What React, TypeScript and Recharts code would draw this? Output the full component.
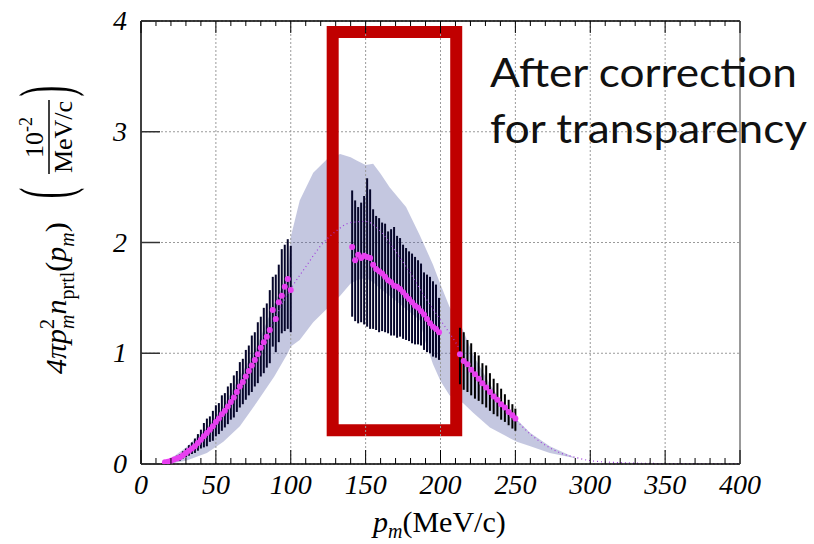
import {
  ComposedChart,
  Area,
  Line,
  Scatter,
  ErrorBar,
  XAxis,
  YAxis,
  CartesianGrid,
  ReferenceLine,
  ReferenceArea,
} from "recharts";

// momentum grid of the measured points (MeV/c)
const pmLow = [16, 18, 20, 22, 24, 26, 28, 30, 32, 34, 36, 38, 40, 42, 44, 46, 48, 50, 52, 54, 56, 58, 60, 62, 64, 66, 68, 70, 72, 74, 76, 78, 80, 82, 84, 86, 88, 90, 92, 94, 96, 98, 100];
const valLow = [0.015, 0.02, 0.03, 0.04, 0.05, 0.06, 0.08, 0.1, 0.12, 0.14, 0.16, 0.19, 0.22, 0.25, 0.28, 0.31, 0.34, 0.38, 0.41, 0.45, 0.48, 0.52, 0.56, 0.6, 0.65, 0.7, 0.74, 0.79, 0.84, 0.89, 0.94, 0.99, 1.05, 1.1, 1.15, 1.21, 1.39, 1.31, 1.46, 1.52, 1.6, 1.67, 1.57];
const errUpLow = [0.01, 0.012, 0.015, 0.02, 0.025, 0.03, 0.035, 0.04, 0.05, 0.055, 0.07, 0.08, 0.09, 0.12, 0.13, 0.12, 0.14, 0.15, 0.14, 0.17, 0.16, 0.18, 0.17, 0.2, 0.19, 0.22, 0.21, 0.24, 0.23, 0.27, 0.25, 0.29, 0.28, 0.31, 0.3, 0.36, 0.3, 0.4, 0.34, 0.42, 0.38, 0.36, 0.4];
const errDnLow = [0.01, 0.01, 0.015, 0.02, 0.02, 0.03, 0.03, 0.04, 0.045, 0.05, 0.06, 0.07, 0.08, 0.1, 0.12, 0.11, 0.13, 0.13, 0.14, 0.15, 0.15, 0.16, 0.16, 0.18, 0.18, 0.19, 0.2, 0.21, 0.22, 0.24, 0.24, 0.26, 0.26, 0.28, 0.28, 0.3, 0.33, 0.3, 0.36, 0.34, 0.4, 0.45, 0.38];

const pmMid = [141, 143, 145, 147, 149, 151, 153, 155, 157, 159, 161, 163, 165, 167, 169, 171, 173, 175, 177, 179, 181, 183, 185, 187, 189, 191, 193, 195, 197, 199];
const valMid = [1.96, 1.84, 1.89, 1.86, 1.88, 1.87, 1.86, 1.8, 1.76, 1.74, 1.72, 1.69, 1.66, 1.64, 1.61, 1.6, 1.58, 1.55, 1.52, 1.49, 1.46, 1.43, 1.41, 1.38, 1.35, 1.31, 1.27, 1.24, 1.22, 1.19];
const errUpMid = [0.51, 0.54, 0.43, 0.5, 0.54, 0.71, 0.62, 0.5, 0.48, 0.48, 0.46, 0.48, 0.44, 0.48, 0.53, 0.46, 0.46, 0.43, 0.43, 0.43, 0.44, 0.44, 0.43, 0.43, 0.38, 0.4, 0.42, 0.41, 0.4, 0.31];
const errDnMid = [0.63, 0.55, 0.62, 0.58, 0.62, 0.63, 0.64, 0.58, 0.55, 0.55, 0.52, 0.5, 0.48, 0.48, 0.45, 0.46, 0.43, 0.42, 0.4, 0.38, 0.37, 0.35, 0.33, 0.31, 0.32, 0.3, 0.27, 0.27, 0.26, 0.25];

const pmHigh = [213, 215.5, 218, 220.5, 223, 225.5, 228, 230.5, 233, 235.5, 238, 240.5, 243, 245.5, 248, 250];
const valHigh = [0.99, 0.93, 0.9, 0.85, 0.81, 0.77, 0.73, 0.69, 0.65, 0.61, 0.58, 0.54, 0.51, 0.47, 0.44, 0.41];
const errUpHigh = [0.24, 0.26, 0.22, 0.24, 0.2, 0.21, 0.18, 0.2, 0.17, 0.16, 0.15, 0.14, 0.12, 0.11, 0.1, 0.09];
const errDnHigh = [0.27, 0.26, 0.25, 0.23, 0.22, 0.2, 0.19, 0.18, 0.17, 0.16, 0.15, 0.14, 0.13, 0.12, 0.12, 0.11];

// systematic band
const bandPm = [15, 20, 30, 44, 55, 66, 77, 89, 98, 100, 106, 115, 124, 133, 140, 144, 150, 155, 160, 166, 177, 186, 190, 195, 200, 206, 215, 222, 233, 244, 251, 260, 273, 291, 307, 330, 360, 400];
const bandUp = [0.02, 0.05, 0.15, 0.33, 0.52, 0.79, 1.05, 1.45, 1.7, 2.05, 2.38, 2.63, 2.75, 2.8, 2.77, 2.74, 2.7, 2.71, 2.62, 2.5, 2.32, 2.07, 1.95, 1.8, 1.62, 1.42, 1.21, 0.98, 0.72, 0.5, 0.4, 0.28, 0.16, 0.05, 0.02, 0.008, 0.003, 0.001];
const bandDn = [0, 0.005, 0.03, 0.1, 0.2, 0.34, 0.55, 0.79, 1.0, 1.06, 1.12, 1.28, 1.4, 1.52, 1.63, 1.66, 1.68, 1.64, 1.58, 1.52, 1.4, 1.3, 1.1, 0.9, 0.75, 0.62, 0.55, 0.46, 0.33, 0.25, 0.2, 0.16, 0.1, 0.05, 0.02, 0.006, 0.002, 0];

// dotted reference curve
const curvePm = [15, 20, 30, 40, 50, 60, 70, 80, 90, 100, 110, 120, 130, 140, 150, 160, 170, 180, 190, 200, 210, 220, 230, 240, 250, 260, 270, 280, 290, 300, 320, 350, 400];
const curveVal = [0, 0.03, 0.1, 0.22, 0.37, 0.55, 0.78, 1.04, 1.33, 1.58, 1.78, 1.97, 2.1, 2.18, 2.19, 2.1, 1.92, 1.72, 1.5, 1.3, 1.1, 0.87, 0.68, 0.53, 0.4, 0.27, 0.17, 0.1, 0.06, 0.03, 0.012, 0.004, 0.001];

const xMinor = [0, 10, 20, 30, 40, 50, 60, 70, 80, 90, 100, 110, 120, 130, 140, 150, 160, 170, 180, 190, 200, 210, 220, 230, 240, 250, 260, 270, 280, 290, 300, 310, 320, 330, 340, 350, 360, 370, 380, 390, 400];
const xGrid = [50, 100, 150, 200, 250, 300, 350];
const yTicks = [0, 1, 2, 3, 4];

// highlighted window
const boxPm = [128, 210.5];
const boxVal = [0.305, 3.9];
const noteLines = ["After correction", "for transparency"];

const toPoints = (xs: number[], ys: number[], up: number[], dn: number[]) =>
  xs.map((x, i) => ({ x, y: ys[i], err: [dn[i], up[i]] }));

const lowData = toPoints(pmLow, valLow, errUpLow, errDnLow);
const midData = toPoints(pmMid, valMid, errUpMid, errDnMid);
const highData = toPoints(pmHigh, valHigh, errUpHigh, errDnHigh);
const pointData = [...lowData, ...midData, ...highData];
const bandData = bandPm.map((x, i) => ({ x, band: [bandDn[i], bandUp[i]] }));
const curveData = curvePm.map((x, i) => ({ x, c: curveVal[i] }));

const serif = '"Liberation Serif", "Times New Roman", serif';
const barColor = "#06062a";

function BottomTick({ x, y, payload }: any) {
  const major = payload.value % 50 === 0;
  return (
    <g>
      <line x1={x} x2={x} y1={y} y2={y - (major ? 14 : 6)} stroke="#000" />
      {major && (
        <text x={x} y={y + 30} textAnchor="middle" fontFamily={serif} fontStyle="italic" fontSize={28} fill="#000">
          {payload.value}
        </text>
      )}
    </g>
  );
}

function TopTick({ x, y, payload }: any) {
  const major = payload.value % 50 === 0;
  return <line x1={x} x2={x} y1={y} y2={y + (major ? 12 : 5)} stroke="#000" />;
}

function LeftTick({ x, y, payload }: any) {
  return (
    <g>
      <line x1={x} x2={x + 19} y1={y} y2={y} stroke="#333" strokeWidth={1.5} />
      <text x={x - 14} y={y + 9} textAnchor="end" fontFamily={serif} fontStyle="italic" fontSize={28} fill="#000">
        {payload.value}
      </text>
    </g>
  );
}

const noDot = () => <g />;
const magentaDot = (p: any) => <circle cx={p.cx} cy={p.cy} r={3} fill="#e83ff0" />;

export default function App() {
  return (
    <div style={{ position: "absolute", left: 0, top: 0, width: 814, height: 544, background: "#fff" }}>
      <ComposedChart width={814} height={544} margin={{ top: 20, right: 73, bottom: 50, left: 101 }}>
        <CartesianGrid vertical={false} stroke="#9a9a9a" strokeDasharray="2 2" />
        {xGrid.map((g) => (
          <ReferenceLine key={g} x={g} stroke="#9a9a9a" strokeDasharray="2 2" />
        ))}
        <XAxis
          dataKey="x"
          type="number"
          domain={[0, 400]}
          ticks={xMinor}
          height={30}
          tickSize={0}
          tickMargin={0}
          tickLine={false}
          tick={<BottomTick />}
          axisLine={{ stroke: "#000", strokeWidth: 1.5 }}
          allowDataOverflow
          interval={0}
        />
        <XAxis
          xAxisId="top"
          orientation="top"
          dataKey="x"
          type="number"
          domain={[0, 400]}
          ticks={xMinor}
          height={1}
          tickSize={0}
          tickMargin={0}
          tickLine={false}
          tick={<TopTick />}
          axisLine={{ stroke: "#000", strokeWidth: 1.5 }}
          allowDataOverflow
          interval={0}
        />
        <YAxis
          type="number"
          domain={[0, 4]}
          ticks={yTicks}
          width={40}
          tickSize={0}
          tickMargin={0}
          tickLine={false}
          tick={<LeftTick />}
          axisLine={{ stroke: "#000", strokeWidth: 1.5 }}
          allowDataOverflow
          interval={0}
        />
        <YAxis
          yAxisId="right"
          orientation="right"
          type="number"
          domain={[0, 4]}
          width={1}
          tick={false}
          tickLine={false}
          axisLine={{ stroke: "#777", strokeWidth: 1.5 }}
        />
        {/* stat. errors go under the band so they turn navy inside it */}
        <Scatter data={lowData} dataKey="y" shape={noDot} isAnimationActive={false}>
          <ErrorBar dataKey="err" direction="y" width={0} stroke={barColor} strokeWidth={2} isAnimationActive={false} />
        </Scatter>
        <Scatter data={midData} dataKey="y" shape={noDot} isAnimationActive={false}>
          <ErrorBar dataKey="err" direction="y" width={0} stroke={barColor} strokeWidth={2} isAnimationActive={false} />
        </Scatter>
        <Area
          data={bandData}
          dataKey="band"
          type="linear"
          stroke="none"
          fill="#565fa6"
          fillOpacity={0.35}
          isAnimationActive={false}
        />
        <Line
          data={curveData}
          dataKey="c"
          type="monotone"
          stroke="#a03cdc"
          strokeWidth={1.2}
          strokeDasharray="1 3"
          dot={false}
          isAnimationActive={false}
        />
        <Scatter data={highData} dataKey="y" shape={noDot} isAnimationActive={false}>
          <ErrorBar dataKey="err" direction="y" width={0} stroke="#000" strokeWidth={2} isAnimationActive={false} />
        </Scatter>
        <Scatter data={pointData} dataKey="y" shape={magentaDot} isAnimationActive={false} />
        <ReferenceArea
          x1={boxPm[0]}
          x2={boxPm[1]}
          y1={boxVal[0]}
          y2={boxVal[1]}
          fill="none"
          stroke="#c00000"
          strokeWidth={12}
          ifOverflow="visible"
        />
      </ComposedChart>
      <svg width={814} height={544} style={{ position: "absolute", left: 0, top: 0, pointerEvents: "none" }}>
        <g transform="translate(66,374) rotate(-90)" fontFamily={serif} fill="#000">
          <text x={0} y={0} fontSize={30}>
            <tspan fontStyle="italic">4πp</tspan>
            <tspan fontSize={20} dy={-12}>2</tspan>
            <tspan fontSize={20} fontStyle="italic" dx={-10} dy={20}>m</tspan>
            <tspan fontStyle="italic" dy={-8}>n</tspan>
            <tspan fontSize={20} dy={8}>prtl</tspan>
            <tspan dy={-8}>(</tspan>
            <tspan fontStyle="italic">p</tspan>
            <tspan fontSize={20} fontStyle="italic" dy={8}>m</tspan>
            <tspan dy={-8}>)</tspan>
          </text>
          <text transform="translate(181,3) scale(0.45,1)" textAnchor="middle" fontSize={72}>(</text>
          <text transform="translate(283,3) scale(0.45,1)" textAnchor="middle" fontSize={72}>)</text>
          <text x={216} y={-23} fontSize={26}>
            10<tspan fontSize={18} dy={-11}>-2</tspan>
          </text>
          <line x1={200} x2={274} y1={-17} y2={-17} stroke="#000" strokeWidth={1.5} />
          <text x={237} y={6} textAnchor="middle" fontSize={26}>MeV/c</text>
        </g>
        <text x={373} y={532} fontFamily={serif} fontSize={30} fill="#000">
          <tspan fontStyle="italic">p</tspan>
          <tspan fontStyle="italic" fontSize={20} dy={6}>m</tspan>
          <tspan dy={-6}>(MeV/c)</tspan>
        </text>
        {noteLines.map((t, i) => (
          <text
            key={t}
            x={490}
            y={87 + i * 56}
            fontFamily="Lato, 'Open Sans', sans-serif"
            fontSize={41}
            fill="#111"
            textLength={i === 0 ? 307 : 317}
            lengthAdjust="spacingAndGlyphs"
          >
            {t}
          </text>
        ))}
      </svg>
    </div>
  );
}
